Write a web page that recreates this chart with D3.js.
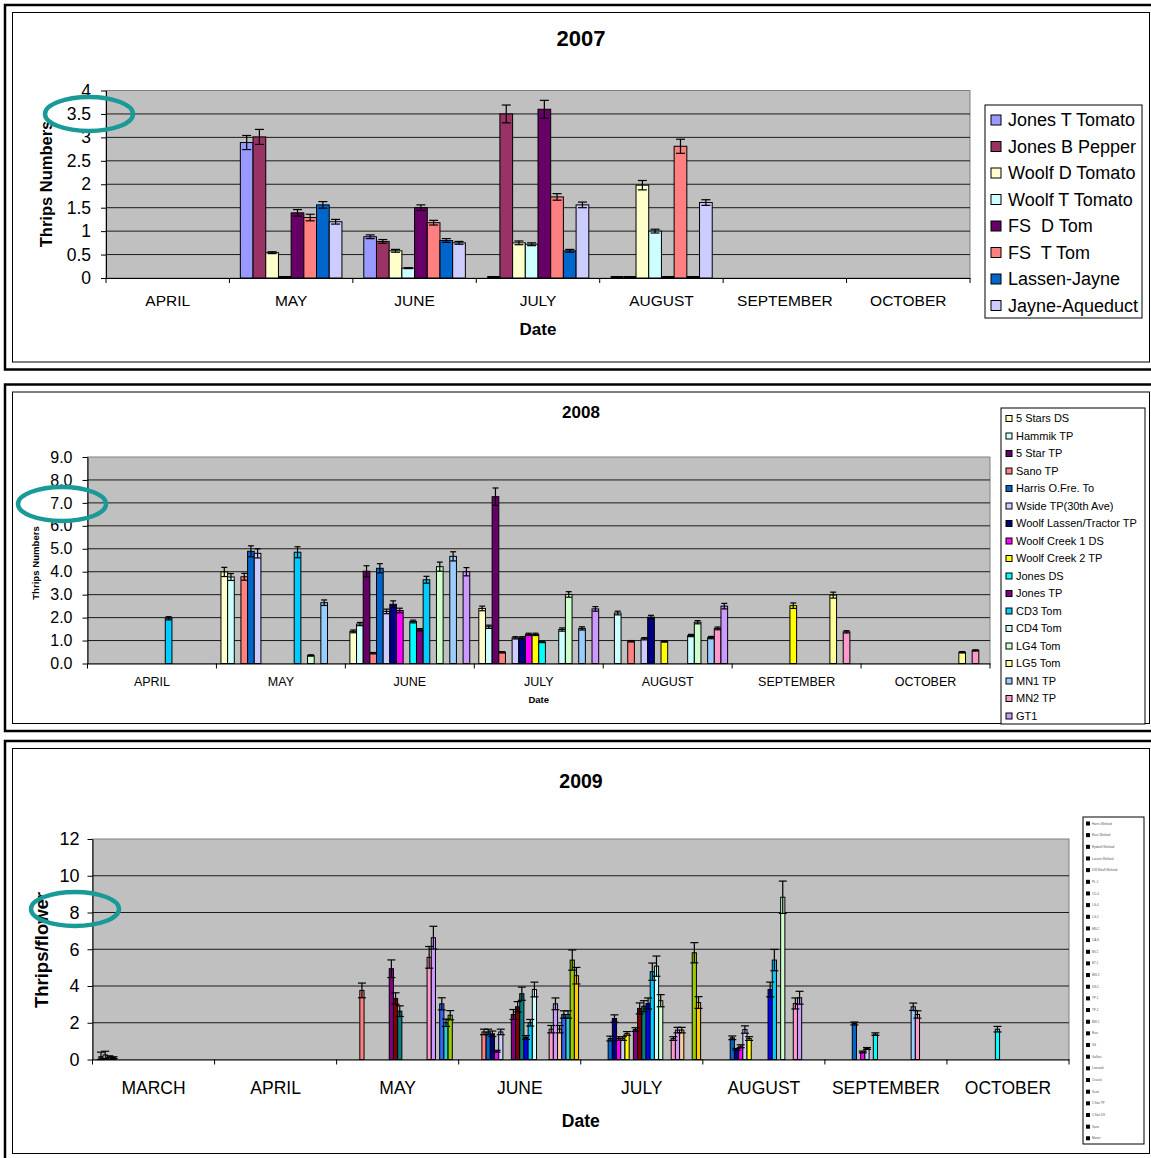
<!DOCTYPE html>
<html>
<head>
<meta charset="utf-8">
<script src="https://cdn.jsdelivr.net/npm/d3@7"></script>
<style>
  body { margin: 0; background: #fff; }
  svg { display: block; }
  text { white-space: pre; }
</style>
</head>
<body>
<div id="chart"></div>
<script>
const _ = null;
const FONT = "'Liberation Sans', Arial, sans-serif";

// ---- 2007 ----
const months2007 = ["APRIL", "MAY", "JUNE", "JULY", "AUGUST", "SEPTEMBER", "OCTOBER"];
const series2007 = ["Jones T Tomato", "Jones B Pepper", "Woolf D Tomato", "Woolf T Tomato",
                    "FS  D Tom", "FS  T Tom", "Lassen-Jayne", "Jayne-Aqueduct"];
const colors2007 = ["#9999FF", "#993366", "#FFFFCC", "#CCFFFF", "#660066", "#FF8080", "#0066CC", "#CCCCFF"];
const values2007 = [
  [_, 2.89, 0.88, 0,    0,    _, _],
  [_, 3.01, 0.78, 3.50, 0,    _, _],
  [_, 0.54, 0.58, 0.75, 1.98, _, _],
  [_, 0,    0.21, 0.72, 1.00, _, _],
  [_, 1.39, 1.50, 3.60, 0,    _, _],
  [_, 1.29, 1.18, 1.73, 2.81, _, _],
  [_, 1.56, 0.80, 0.58, 0,    _, _],
  [_, 1.20, 0.75, 1.56, 1.61, _, _]
];
const errors2007 = [
  [_, 0.15, 0.04, 0,    0,    _, _],
  [_, 0.16, 0.04, 0.19, 0,    _, _],
  [_, 0.02, 0.03, 0.04, 0.10, _, _],
  [_, 0,    0.01, 0.03, 0.04, _, _],
  [_, 0.07, 0.06, 0.19, 0,    _, _],
  [_, 0.07, 0.05, 0.07, 0.15, _, _],
  [_, 0.07, 0.04, 0.03, 0,    _, _],
  [_, 0.05, 0.03, 0.06, 0.06, _, _]
];
const ticks2007 = [0, 0.5, 1, 1.5, 2, 2.5, 3, 3.5, 4];

// ---- 2008 ----
const months2008 = ["APRIL", "MAY", "JUNE", "JULY", "AUGUST", "SEPTEMBER", "OCTOBER"];
const series2008 = ["5 Stars DS", "Hammik TP", "5 Star TP", "Sano TP", "Harris O.Fre. To",
                    "Wside TP(30th Ave)", "Woolf Lassen/Tractor TP", "Woolf Creek 1 DS",
                    "Woolf Creek 2 TP", "Jones DS", "Jones TP", "CD3 Tom", "CD4 Tom",
                    "LG4 Tom", "LG5 Tom", "MN1 TP", "MN2 TP", "GT1"];
const colors2008 = ["#FFFFCC", "#CCFFFF", "#660066", "#FF8080", "#0066CC", "#CCCCFF", "#000080",
                    "#FF00FF", "#FFFF00", "#00FFFF", "#800080", "#00CCFF", "#CCFFFF", "#CCFFCC",
                    "#FFFF99", "#99CCFF", "#FF99CC", "#CC99FF"];
const values2008 = [
  [_,    3.99, 1.40, 2.40, _,    _,    _],
  [_,    3.77, 1.72, 1.60, 2.20, _,    _],
  [_,    _,    4.02, 7.27, _,    _,    _],
  [_,    3.78, 0.45, 0.49, 0.97, _,    _],
  [_,    4.89, 4.15, _,    _,    _,    _],
  [_,    4.80, 2.27, 1.12, 1.08, _,    _],
  [_,    _,    2.58, 1.12, 2.02, _,    _],
  [_,    _,    2.31, 1.27, _,    _,    _],
  [_,    _,    _,    1.27, 0.96, 2.52, _],
  [_,    _,    1.83, 0.94, _,    _,    _],
  [_,    _,    1.47, _,    _,    _,    _],
  [1.97, 4.85, 3.65, _,    _,    _,    _],
  [_,    _,    _,    1.48, 1.22, _,    _],
  [_,    0.35, 4.22, 3.01, 1.80, _,    _],
  [_,    _,    _,    _,    _,    2.98, 0.49],
  [_,    2.65, 4.67, 1.53, 1.13, _,    _],
  [_,    _,    _,    _,    1.53, 1.38, 0.57],
  [_,    _,    4.00, 2.38, 2.50, _,    _]
];
const errors2008 = [
  [_,    0.20, 0.06, 0.10, _,    _,    _],
  [_,    0.15, 0.07, 0.07, 0.08, _,    _],
  [_,    _,    0.24, 0.38, _,    _,    _],
  [_,    0.15, 0.03, 0.03, 0.03, _,    _],
  [_,    0.24, 0.20, _,    _,    _,    _],
  [_,    0.20, 0.10, 0.05, 0.05, _,    _],
  [_,    _,    0.15, 0.05, 0.08, _,    _],
  [_,    _,    0.10, 0.05, _,    _,    _],
  [_,    _,    _,    0.05, 0.03, 0.12, _],
  [_,    _,    0.06, 0.03, _,    _,    _],
  [_,    _,    0.05, _,    _,    _,    _],
  [0.07, 0.24, 0.15, _,    _,    _,    _],
  [_,    _,    _,    0.07, 0.05, _,    _],
  [_,    0.03, 0.20, 0.12, 0.07, _,    _],
  [_,    _,    _,    _,    _,    0.13, 0.03],
  [_,    0.12, 0.20, 0.07, 0.05, _,    _],
  [_,    _,    _,    _,    0.06, 0.05, 0.03],
  [_,    _,    0.18, 0.10, 0.12, _,    _]
];
const ticks2008 = [0, 1, 2, 3, 4, 5, 6, 7, 8, 9];

// ---- 2009 ----
const months2009 = ["MARCH", "APRIL", "MAY", "JUNE", "JULY", "AUGUST", "SEPTEMBER", "OCTOBER"];
const series2009 = ["Harris Wetland", "Bass Wetland", "Rydwell Wetland", "Lassen Wetland",
                    "DW Woolf Wetland", "PL-1", "CD-4", "LG-4", "LG-5", "MN-2", "CA-8", "BV-1",
                    "BT-1", "BW-2", "DN-1", "TP-1", "TP-2", "BW-1", "Ruiz", "Sill", "Gallina",
                    "Leonardi", "Crusick", "Scott", "5 Star TP", "5 Star DS", "Sano", "Moore"];
const colors2009 = ["#9999FF", "#993366", "#FFFFCC", "#CCFFFF", "#660066", "#FF8080", "#0066CC",
                    "#000080", "#FF00FF", "#CCCCFF", "#FFFF00", "#00FFFF", "#800080", "#800000",
                    "#008080", "#0000FF", "#00CCFF", "#CCFFFF", "#CCFFCC", "#FFFF99", "#99CCFF",
                    "#FF99CC", "#CC99FF", "#FFCC99", "#3366FF", "#33CCCC", "#99CC00", "#FFCC00"];
const values2009 = [
  [_,    _, _,    _,    _,    _,    _,    _],
  [0.15, _, _,    _,    _,    _,    _,    _],
  [0.25, _, _,    _,    _,    _,    _,    _],
  [0.15, _, _,    _,    _,    _,    _,    _],
  [0.10, _, _,    _,    _,    _,    _,    _],
  [_,    _, 3.76, 1.50, _,    _,    _,    _],
  [_,    _, _,    1.50, 1.14, 1.18, 1.96, _],
  [_,    _, _,    1.40, 2.23, 0.55, _,    _],
  [_,    _, _,    0.45, 1.14, 0.72, 0.41, _],
  [_,    _, _,    1.50, 1.14, 1.63, 0.60, _],
  [_,    _, _,    _,    1.42, 1.14, _,    _],
  [_,    _, _,    _,    _,    _,    1.38, 1.65],
  [_,    _, 4.94, 2.45, 1.63, _,    _,    _],
  [_,    _, 3.32, 2.87, 2.78, _,    _,    _],
  [_,    _, 2.63, 3.58, 2.90, _,    _,    _],
  [_,    _, _,    1.20, 3.05, 3.81, _,    _],
  [_,    _, _,    2.00, 4.78, 5.41, _,    _],
  [_,    _, _,    3.81, 5.08, _,    _,    _],
  [_,    _, _,    _,    3.20, 8.83, _,    _],
  [_,    _, _,    _,    _,    _,    _,    _],
  [_,    _, _,    _,    _,    _,    2.87, _],
  [_,    _, 5.56, 1.65, 1.14, 3.05, 2.45, _],
  [_,    _, 6.63, 3.03, 1.60, 3.36, _,    _],
  [_,    _, _,    1.65, 1.60, _,    _,    _],
  [_,    _, 3.03, 2.45, _,    _,    _,    _],
  [_,    _, 2.00, 2.45, _,    _,    _,    _],
  [_,    _, 2.41, 5.41, 5.81, _,    _,    _],
  [_,    _, _,    4.56, 3.10, _,    _,    _]
];
const errors2009 = [
  [_,    _, _,    _,    _,    _,    _,    _],
  [0.25, _, _,    _,    _,    _,    _,    _],
  [0.20, _, _,    _,    _,    _,    _,    _],
  [0.05, _, _,    _,    _,    _,    _,    _],
  [0.05, _, _,    _,    _,    _,    _,    _],
  [_,    _, 0.40, 0.15, _,    _,    _,    _],
  [_,    _, _,    0.15, 0.13, 0.10, 0.08, _],
  [_,    _, _,    0.15, 0.20, 0.05, _,    _],
  [_,    _, _,    0.05, 0.10, 0.08, 0.05, _],
  [_,    _, _,    0.15, 0.10, 0.20, 0.05, _],
  [_,    _, _,    _,    0.10, 0.10, _,    _],
  [_,    _, _,    _,    _,    _,    0.07, 0.15],
  [_,    _, 0.48, 0.27, 0.10, _,    _,    _],
  [_,    _, 0.31, 0.28, 0.30, _,    _,    _],
  [_,    _, 0.29, 0.36, 0.30, _,    _,    _],
  [_,    _, _,    0.10, 0.30, 0.40, _,    _],
  [_,    _, _,    0.18, 0.47, 0.58, _,    _],
  [_,    _, _,    0.40, 0.55, _,    _,    _],
  [_,    _, _,    _,    0.33, 0.88, _,    _],
  [_,    _, _,    _,    _,    _,    _,    _],
  [_,    _, _,    _,    _,    _,    0.20, _],
  [_,    _, 0.59, 0.20, 0.10, 0.30, 0.20, _],
  [_,    _, 0.62, 0.32, 0.15, 0.35, _,    _],
  [_,    _, _,    0.20, 0.15, _,    _,    _],
  [_,    _, 0.33, 0.20, _,    _,    _,    _],
  [_,    _, 0.20, 0.20, _,    _,    _,    _],
  [_,    _, 0.25, 0.55, 0.55, _,    _,    _],
  [_,    _, _,    0.45, 0.32, _,    _,    _]
];
const ticks2009 = [0, 2, 4, 6, 8, 10, 12];

const svg = d3.select("#chart").append("svg")
    .attr("width", 1151)
    .attr("height", 1158)
    .attr("font-family", FONT);

// double frame around each chart
function frame(y0, y1) {
  svg.append("rect").attr("x", 5).attr("y", y0).attr("width", 1150).attr("height", y1 - y0)
    .attr("fill", "none").attr("stroke", "#000").attr("stroke-width", 2.5);
  svg.append("rect").attr("x", 12.5).attr("y", y0 + 7.5).attr("width", 1137).attr("height", y1 - y0 - 15)
    .attr("fill", "none").attr("stroke", "#000").attr("stroke-width", 1);
}
frame(5, 369.5);
frame(384.5, 731);
frame(741, 1161);

function barChart(c) {
  const g = svg.append("g");
  const x0 = d3.scaleBand().domain(c.months).range([c.left, c.right]);
  const x1 = d3.scaleBand().domain(d3.range(c.series.length))
      .range([0, x0.bandwidth()]).paddingOuter(c.pad);
  const y = d3.scaleLinear().domain([0, c.max]).range([c.bottom, c.top]);

  g.append("rect")
    .attr("x", c.left).attr("y", c.top)
    .attr("width", c.right - c.left).attr("height", c.bottom - c.top)
    .attr("fill", "#c0c0c0").attr("stroke", "#808080");

  g.selectAll(".grid")
    .data(c.ticks.filter(t => t > 0 && t < c.max))
    .enter().append("line")
    .attr("x1", c.left).attr("x2", c.right)
    .attr("y1", d => y(d)).attr("y2", d => y(d))
    .attr("stroke", "#1a1a1a").attr("stroke-width", 1);

  const cells = [];
  c.values.forEach((row, i) => row.forEach((v, j) => {
    if (v != null) cells.push({ i: i, m: c.months[j], v: v, e: c.errors[i][j] || 0 });
  }));
  const bw = x1.bandwidth();
  const bx = d => x0(d.m) + x1(d.i);

  g.selectAll(".bar")
    .data(cells.filter(d => d.v > 0))
    .enter().append("rect")
    .attr("x", bx).attr("y", d => y(d.v))
    .attr("width", bw).attr("height", d => y(0) - y(d.v))
    .attr("fill", d => c.colors[d.i])
    .attr("stroke", "#000").attr("stroke-width", 1);

  // zero values show as a flat dark bar
  g.selectAll(".zero")
    .data(cells.filter(d => d.v === 0))
    .enter().append("line")
    .attr("x1", bx).attr("x2", d => bx(d) + bw)
    .attr("y1", y(0) - 1).attr("y2", y(0) - 1)
    .attr("stroke", "#000").attr("stroke-width", 2);

  const err = g.selectAll(".err")
    .data(cells.filter(d => d.e > 0))
    .enter().append("g")
    .attr("stroke", "#000").attr("stroke-width", 1.2);
  err.append("line")
    .attr("x1", d => bx(d) + bw / 2).attr("x2", d => bx(d) + bw / 2)
    .attr("y1", d => y(d.v + d.e)).attr("y2", d => y(Math.max(0, d.v - d.e)));
  err.append("line")
    .attr("x1", d => bx(d) + bw / 2 - c.cap).attr("x2", d => bx(d) + bw / 2 + c.cap)
    .attr("y1", d => y(d.v + d.e)).attr("y2", d => y(d.v + d.e));
  err.append("line")
    .attr("x1", d => bx(d) + bw / 2 - c.cap).attr("x2", d => bx(d) + bw / 2 + c.cap)
    .attr("y1", d => y(Math.max(0, d.v - d.e))).attr("y2", d => y(Math.max(0, d.v - d.e)));

  const ya = g.append("g")
    .attr("transform", "translate(" + c.left + ",0)")
    .call(d3.axisLeft(y).tickValues(c.ticks).tickFormat(c.fmt)
      .tickSize(5).tickSizeOuter(0).tickPadding(c.yPad));
  ya.attr("font-family", FONT).attr("font-size", c.yFont);
  ya.selectAll("text").attr("fill", "#000");

  const xa = g.append("g")
    .attr("transform", "translate(0," + c.bottom + ")")
    .call(d3.axisBottom(x0).tickSize(0).tickSizeOuter(0).tickPadding(c.xPad));
  xa.attr("font-family", FONT).attr("font-size", c.xFont);
  xa.selectAll("text").attr("fill", "#000");

  g.selectAll(".xt")
    .data(c.months.map(m => x0(m)).concat([c.right]))
    .enter().append("line")
    .attr("x1", d => d).attr("x2", d => d)
    .attr("y1", c.bottom).attr("y2", c.bottom + 5)
    .attr("stroke", "#000");

  g.append("text")
    .attr("x", 581).attr("y", c.titleY)
    .attr("text-anchor", "middle").attr("font-weight", "bold").attr("font-size", c.titleFont)
    .text(c.title);
  g.append("text")
    .attr("x", (c.left + c.right) / 2).attr("y", c.dateY)
    .attr("text-anchor", "middle").attr("font-weight", "bold").attr("font-size", c.dateFont)
    .text("Date");
  g.append("text")
    .attr("transform", "translate(" + c.yLabelX + "," + c.yLabelY + ") rotate(-90)")
    .attr("text-anchor", "middle").attr("font-weight", "bold").attr("font-size", c.yLabelFont)
    .text(c.yLabel);

  // legend
  const lg = g.append("g");
  lg.append("rect")
    .attr("x", c.leg.x).attr("y", c.leg.y).attr("width", c.leg.w).attr("height", c.leg.h)
    .attr("fill", "#fff").attr("stroke", "#000");
  const item = lg.selectAll(".item")
    .data(c.series)
    .enter().append("g")
    .attr("transform", (d, i) => "translate(" + c.leg.x + "," + (c.leg.first + i * c.leg.step) + ")");
  item.append("rect")
    .attr("x", c.leg.sx).attr("y", -c.leg.sw / 2)
    .attr("width", c.leg.sw).attr("height", c.leg.sw)
    .attr("fill", (d, i) => c.leg.swatch || c.colors[i]).attr("stroke", "#000");
  item.append("text")
    .attr("x", c.leg.tx).attr("dy", "0.35em")
    .attr("font-size", c.leg.font).attr("fill", c.leg.color || "#000")
    .text(d => d);

  // teal highlight ring
  g.append("ellipse")
    .attr("cx", c.ring[0]).attr("cy", c.ring[1]).attr("rx", 44).attr("ry", 17)
    .attr("fill", "none").attr("stroke", "#1A9A96").attr("stroke-width", 4.5);
}

barChart({
  title: "2007", months: months2007, series: series2007, colors: colors2007,
  values: values2007, errors: errors2007, ticks: ticks2007, max: 4, fmt: d => String(d),
  left: 106, right: 970, top: 90.5, bottom: 278, pad: 0.86, cap: 4.5,
  yFont: 17.5, yPad: 10, xFont: 15.5, xPad: 17,
  titleY: 46, titleFont: 22, dateY: 335, dateFont: 17,
  yLabel: "Thrips Numbers", yLabelX: 52, yLabelY: 184, yLabelFont: 16.5,
  leg: { x: 985, y: 105, w: 157, h: 213, first: 120, step: 26.5, sx: 6, sw: 10, tx: 23, font: 18 },
  ring: [89, 114]
});

barChart({
  title: "2008", months: months2008, series: series2008, colors: colors2008,
  values: values2008, errors: errors2008, ticks: ticks2008, max: 9, fmt: d3.format(".1f"),
  left: 87.5, right: 990, top: 457, bottom: 663.5, pad: 0.68, cap: 3,
  yFont: 16, yPad: 10, xFont: 12.5, xPad: 13.5,
  titleY: 418, titleFont: 17, dateY: 703, dateFont: 9.5,
  yLabel: "Thrips Numbers", yLabelX: 39, yLabelY: 563, yLabelFont: 9.6,
  leg: { x: 1001, y: 408, w: 144, h: 316, first: 418.5, step: 17.5, sx: 5, sw: 6, tx: 15, font: 11 },
  ring: [62, 504]
});

barChart({
  title: "2009", months: months2009, series: series2009, colors: colors2009,
  values: values2009, errors: errors2009, ticks: ticks2009, max: 12, fmt: d => String(d),
  left: 92.5, right: 1069, top: 839, bottom: 1059.5, pad: 0.52, cap: 4,
  yFont: 18, yPad: 8, xFont: 17.5, xPad: 22,
  titleY: 788, titleFont: 19.5, dateY: 1127, dateFont: 17.5,
  yLabel: "Thrips/flower", yLabelX: 48, yLabelY: 950, yLabelFont: 18.5,
  leg: { x: 1083, y: 817, w: 61, h: 327, first: 823.5, step: 11.66, sx: 3.5, sw: 3, tx: 9, font: 3,
         color: "#555", swatch: "#000" },
  ring: [75, 909]
});
</script>
</body>
</html>
